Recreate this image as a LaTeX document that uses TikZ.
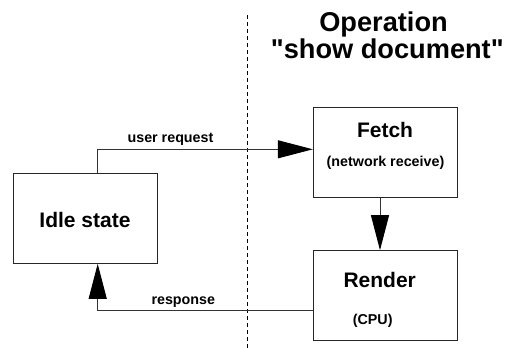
\documentclass[tikz,border=0pt]{standalone}
\usepackage{fontspec}
\setmainfont{Liberation Sans}[Ligatures=TeXOff]
\usetikzlibrary{arrows.meta}

\tikzset{
  statebox/.style={draw=black!85, line width=1pt, minimum width=144pt, minimum height=90pt, inner sep=0pt},
  flow/.style={draw=black!80, line width=1pt, -{Triangle[length=35pt,width=18pt,color=black]}},
  bigtext/.style={font=\bfseries\fontsize{21}{24}\selectfont, anchor=base, inner sep=0pt},
  smalltext/.style={font=\bfseries\fontsize{14.3}{17}\selectfont, anchor=base, inner sep=0pt},
  titletext/.style={font=\bfseries\fontsize{27.2}{30}\selectfont, anchor=base, inner sep=0pt},
  divider/.style={draw=black, line width=0.9pt, dash pattern=on 4pt off 3pt}
}

\begin{document}
\begin{tikzpicture}[x=1pt, y=-1pt]
  \useasboundingbox (0,0) rectangle (506,348);

  % title of the operation
  \node[titletext] (title1) at (383.5,31.7) {Operation};
  \node[titletext] (title2) at (387.3,58.3) {"show document"};

  % separation between idle side and operation side
  \coordinate (divtop) at (247.3,15);
  \coordinate (divbot) at (247.3,348);
  \draw[divider] (divtop) -- (divbot);

  % state boxes
  \node[statebox] (idle) at (85.5,218.3) {};
  \node[statebox] (fetch) at (385.3,152.3) {};
  \node[statebox] (render) at (385.3,295.7) {};

  % box labels
  \node[bigtext] (idletxt) at (85,227.3) {Idle state};
  \node[bigtext] (fetchtxt) at (385,137.3) {Fetch};
  \node[smalltext] (fetchsub) at (385.5,166.7) {(network receive)};
  \node[bigtext] (rendertxt) at (379.7,287.3) {Render};
  \node[smalltext] (rendersub) at (372.7,324) {(CPU)};

  % transitions
  \draw[flow] ([xshift=12.2pt]idle.north) |- ([yshift=3pt]fetch.west);
  \draw[flow] ([xshift=-5.3pt]fetch.south) -- ([xshift=-5.3pt]render.north);
  \draw[flow] ([yshift=-15pt]render.west) -| ([xshift=12.2pt]idle.south);

  % transition labels
  \node[smalltext] (reqlbl) at (170.5,142.7) {user request};
  \node[smalltext] (resplbl) at (183.3,304) {response};
\end{tikzpicture}
\end{document}
